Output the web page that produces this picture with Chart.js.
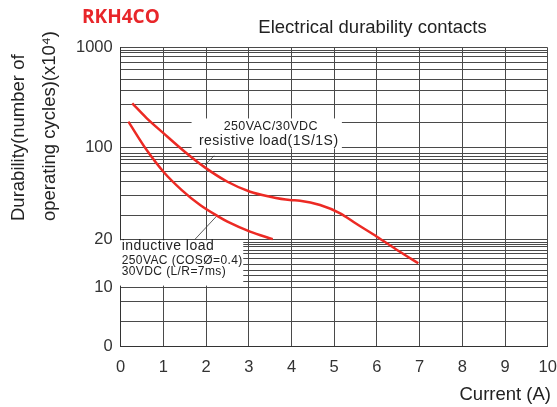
<!DOCTYPE html>
<html>
<head>
<meta charset="utf-8">
<title>RKH4CO Electrical durability contacts</title>
<script src="https://cdn.jsdelivr.net/npm/chart.js@4.4.1/dist/chart.umd.min.js"></script>
<style>
  html, body { margin: 0; padding: 0; background: #fff; }
  #wrap { width: 557px; height: 407px; }
</style>
</head>
<body>
<div id="wrap"><canvas id="durability" width="557" height="407"></canvas></div>
<script>
// Curves: current (A) vs cycles (x10^4) on the log grid
const resistiveCurrent = [0.27, 0.6, 1.0, 1.5, 1.97, 2.5, 3.03, 3.5, 3.96, 4.2, 4.67, 5.14, 5.5, 6.0, 6.5, 6.97];
const resistiveCycles  = [277, 198, 139, 90.5, 63, 45.2, 35.9, 32, 29.6, 29.2, 26.4, 21.8, 17.3, 12.7, 9.19, 6.87];
const inductiveCurrent = [0.18, 0.6, 1.0, 1.43, 1.86, 2.29, 2.5, 3.03, 3.56];
const inductiveCycles  = [181, 95, 57, 37.3, 26.4, 20.2, 18, 14.3, 12.0];

// Horizontal grid lines as drawn in the picture (values on the log axis)
const yGridValues = [1000, 948, 893, 812, 718, 608, 482, 372, 272, 178, 100,
  87.2, 81.9, 75.9, 69.2, 57, 45.2, 32.7, 20.9,
  11.96, 11.15, 10.65, 10.07, 9.33, 8.65, 7.71, 6.71, 5.88, 5.24, 4.49,
  3.94, 2.87, 1.81, 1];
// Where the printed y labels sit, and their text
const yLabelValues = [1, 3.94, 11.96, 100, 1000];
const yLabelTexts  = ['0', '10', '20', '100', '1000'];

const FONT = "'Liberation Sans', Arial, sans-serif";
const RED = '#ec2a24';

const toPoints = (xs, ys) => xs.map((v, i) => ({ x: v, y: ys[i] }));

// notes, white boxes behind them, leader lines, titles
const overlay = {
  id: 'overlay',
  beforeDatasetsDraw(chart) {
    const { ctx, scales: { x, y } } = chart;
    ctx.save();
    const box = (x0, x1, y0, y1) => {
      const l = x.getPixelForValue(x0), r = x.getPixelForValue(x1);
      const t = y.getPixelForValue(y0), b = y.getPixelForValue(y1);
      ctx.fillStyle = '#fff';
      ctx.fillRect(l, t, r - l, b - t);
      return { l, r, t, b };
    };
    const b1 = box(1.66, 5.18, 195, 97.4);
    const b2 = box(-0.07, 2.87, 11.7, 4.1);

    ctx.strokeStyle = '#333';
    ctx.lineWidth = 0.8;
    const leader = (xa, ya, xb, yb) => {
      ctx.beginPath();
      ctx.moveTo(x.getPixelForValue(xa), y.getPixelForValue(ya));
      ctx.lineTo(x.getPixelForValue(xb), y.getPixelForValue(yb));
      ctx.stroke();
    };
    leader(2.19, 82.5, 1.97, 66.5);
    leader(1.74, 11.96, 2.25, 20.5);

    ctx.fillStyle = '#222';
    ctx.textBaseline = 'middle';
    const cx = (b1.l + b1.r) / 2 + 2;
    ctx.textAlign = 'center';
    ctx.letterSpacing = '0.4px';
    ctx.font = '12.5px ' + FONT;
    ctx.fillText('250VAC/30VDC', cx + 2, b1.t + 8);
    ctx.letterSpacing = '0.5px';
    ctx.font = '14px ' + FONT;
    ctx.fillText('resistive load(1S/1S)', cx, b1.t + 22.5);

    ctx.textAlign = 'left';
    ctx.fillText('inductive load', b2.l + 4, b2.t + 5.5);
    ctx.letterSpacing = '0.4px';
    ctx.font = '12px ' + FONT;
    ctx.fillText('250VAC (COSØ=0.4)', b2.l + 4, b2.t + 20);
    ctx.fillText('30VDC (L/R=7ms)', b2.l + 4, b2.t + 31.5);
    ctx.restore();
  },
  afterDraw(chart) {
    const { ctx } = chart;
    ctx.save();
    ctx.textBaseline = 'middle';

    ctx.fillStyle = '#e8262a';
    ctx.font = "bold 19px 'Open Sans', 'Noto Sans', sans-serif";
    ctx.textAlign = 'left';
    ctx.fillText('RKH4CO', 82, 18);

    ctx.fillStyle = '#222';
    ctx.font = '18.5px ' + FONT;
    ctx.textAlign = 'center';
    ctx.fillText('Electrical durability contacts', 372.5, 28);

    ctx.textAlign = 'right';
    ctx.fillText('Current (A)', 551, 395);

    ctx.font = '18.5px ' + FONT;
    ctx.textAlign = 'left';
    ctx.translate(0, 221);
    ctx.rotate(-Math.PI / 2);
    ctx.fillText('Durability(number of', 0, 19);
    ctx.fillText('operating cycles)(x10\u2074)', 0, 50);
    ctx.restore();
  }
};

new Chart(document.getElementById('durability'), {
  type: 'line',
  data: {
    datasets: [{
      label: 'resistive load',
      data: toPoints(resistiveCurrent, resistiveCycles),
      borderColor: RED,
      borderWidth: 2.5,
      pointRadius: 0,
      cubicInterpolationMode: 'monotone',
      fill: false
    }, {
      label: 'inductive load',
      data: toPoints(inductiveCurrent, inductiveCycles),
      borderColor: RED,
      borderWidth: 2.5,
      pointRadius: 0,
      cubicInterpolationMode: 'monotone',
      fill: false
    }]
  },
  options: {
    responsive: false,
    animation: false,
    layout: { padding: { top: 47.7, right: 9.3, bottom: 0, left: 0 } },
    plugins: { legend: { display: false }, tooltip: { enabled: false } },
    scales: {
      x: {
        type: 'linear',
        min: 0,
        max: 10,
        afterFit: s => { s.height = 60.3; s.paddingLeft = 0; s.paddingRight = 0; },
        grid: { color: '#4a4a4a', lineWidth: 1, drawTicks: false },
        border: { color: '#333', width: 1 },
        ticks: { stepSize: 1, padding: 11, color: '#333', font: { family: FONT, size: 16.5 } }
      },
      y: {
        type: 'logarithmic',
        min: 1,
        max: 1000,
        afterFit: s => { s.width = 120.7; s.paddingTop = 0; s.paddingBottom = 0; },
        afterBuildTicks: s => { s.ticks = yGridValues.map(v => ({ value: v })); },
        grid: { color: '#4a4a4a', lineWidth: 1, drawTicks: false },
        border: { color: '#333', width: 1 },
        ticks: {
          autoSkip: false,
          padding: 8,
          color: '#333',
          font: { family: FONT, size: 16.5 },
          callback: v => {
            const i = yLabelValues.indexOf(v);
            return i < 0 ? '' : yLabelTexts[i];
          }
        }
      }
    }
  },
  plugins: [overlay]
});
</script>
</body>
</html>
